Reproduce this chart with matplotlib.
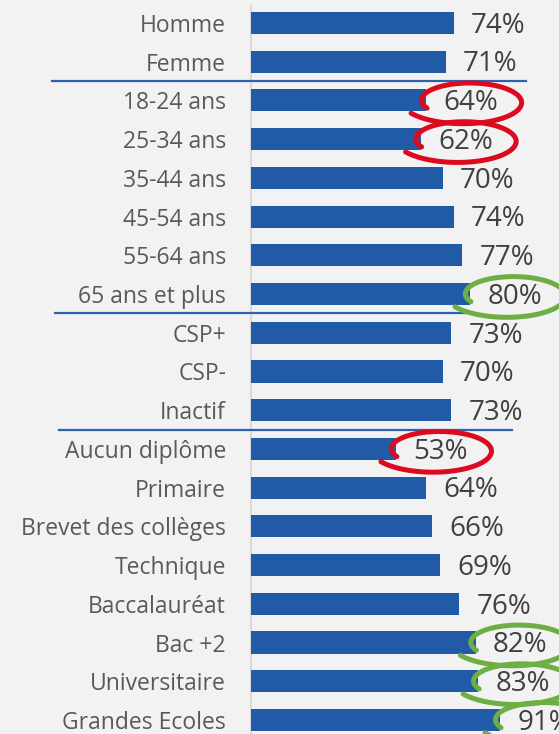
import numpy as np
import matplotlib
matplotlib.use("Agg")
import matplotlib.pyplot as plt
from matplotlib.transforms import ScaledTranslation

plt.rcParams['font.family'] = ['Open Sans', 'DejaVu Sans']

# Share of respondents, per group
categories = ['Homme', 'Femme',
              '18-24 ans', '25-34 ans', '35-44 ans', '45-54 ans', '55-64 ans', '65 ans et plus',
              'CSP+', 'CSP-', 'Inactif',
              'Aucun diplôme', 'Primaire', 'Brevet des collèges', 'Technique',
              'Baccalauréat', 'Bac +2', 'Universitaire', 'Grandes Ecoles']
values = [74, 71,
          64, 62, 70, 74, 77, 80,
          73, 70, 73,
          53, 64, 66, 69, 76, 82, 83, 91]
# circled values: red = below average, green = above
circled = {'18-24 ans': 'red', '25-34 ans': 'red', 'Aucun diplôme': 'red',
           '65 ans et plus': 'green', 'Bac +2': 'green',
           'Universitaire': 'green', 'Grandes Ecoles': 'green'}
# group separators sit between these rows
separators = [1.5, 7.5, 10.5]

BG = '#F2F2F2'
BAR = '#215AA6'
LINE = '#2E62AE'
loop_colors = {'red': '#DC0A1E', 'green': '#6DAE45'}

W, H, DPI = 559, 734, 100
fig = plt.figure(figsize=(W / DPI, H / DPI), dpi=DPI, facecolor=BG)

# axes starts at the category axis line, one x unit = 2.74 px, one row = 38.72 px
x0 = 251
px_per_pct = 2.74
row_h = 38.72
ax = fig.add_axes([x0 / W, 0, 1 - x0 / W, 1])
ax.set_facecolor(BG)
ax.set_xlim(0, (W - x0) / px_per_pct)
ax.set_ylim((H - 23) / row_h, -23 / row_h)

y = np.arange(len(categories))
ax.barh(y, values, height=0.57, color=BAR, zorder=2)

ax.set_yticks(y)
ax.set_yticklabels(categories, fontsize=16.5, color='#595959')
ax.tick_params(axis='y', length=0, pad=18)
ax.set_xticks([])
for s in ax.spines.values():
    s.set_visible(False)

# thin grey category axis
ax.plot([0, 0], [-0.45, len(categories)], color='#D9D9D9', lw=1.6, zorder=1,
        clip_on=False)

# value labels
for yi, v in zip(y, values):
    ax.annotate(f'{v}%', (v, yi), xytext=(12.5, -2), textcoords='offset points',
                ha='left', va='center', fontsize=20, color='#404040', zorder=4)

# separators between groups, given in pixel extents
sep_extent = [(52, 526), (55, 468), (59, 512)]
for ys, (xa, xb) in zip(separators, sep_extent):
    ax.plot([(xa - x0) / px_per_pct, (xb - x0) / px_per_pct], [ys, ys],
            color=LINE, lw=1.6, clip_on=False, zorder=3)

# hand-drawn loops around the circled values
t = np.linspace(0, 1, 200)
theta = np.deg2rad(205 - 355 * t)
r = 0.76 + 0.36 * t
for cat, col in circled.items():
    i = categories.index(cat)
    v = values[i]
    a, b = 57, 21
    cx = 40  # loop centre, px right of the bar end
    dx = (cx + a * r * np.cos(theta)) / DPI
    dy = (-1 + b * r * np.sin(theta)) / DPI
    trans = fig.dpi_scale_trans + ScaledTranslation(v, i, ax.transData)
    ax.plot(dx, dy, color=loop_colors[col], lw=3.6, solid_capstyle='round',
            transform=trans, clip_on=False, zorder=5)

fig.savefig('out.png', dpi=DPI, facecolor=BG)
